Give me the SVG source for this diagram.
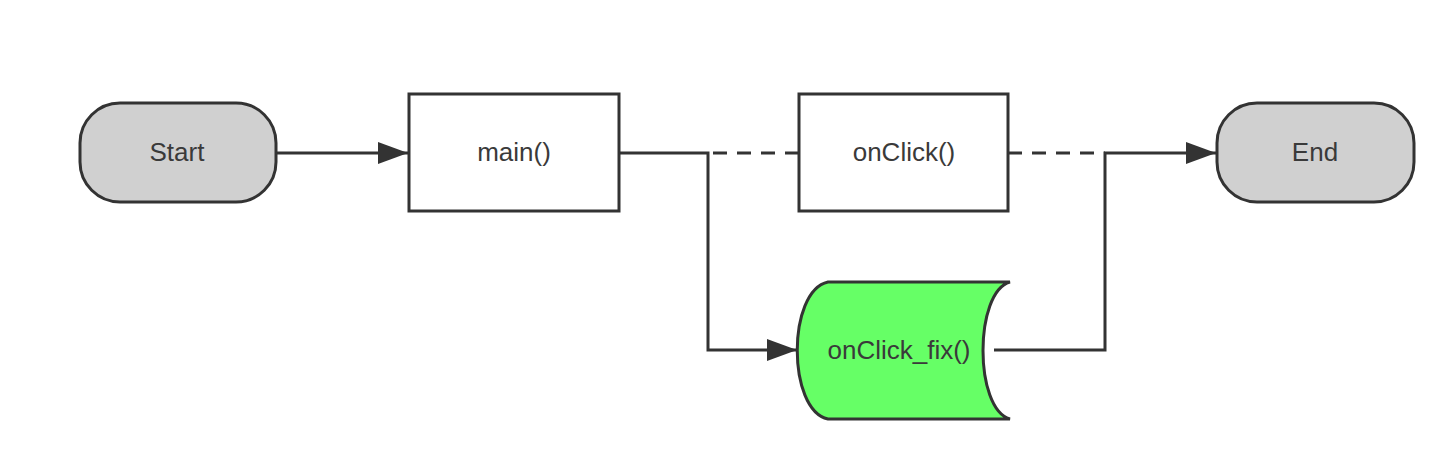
<svg xmlns="http://www.w3.org/2000/svg" width="1454" height="462" viewBox="0 0 1454 462">
  <defs>
    <marker id="arrow" markerUnits="userSpaceOnUse" markerWidth="32" markerHeight="22" refX="30" refY="11" orient="auto">
      <path d="M0,0 L30,11 L0,22 Z" fill="#333333"/>
    </marker>
    <style>
      .shape { stroke: #333333; stroke-width: 3; }
      .term { fill: #d0d0d0; }
      .proc { fill: #ffffff; }
      .data { fill: #66ff66; }
      .label { font-family: "Liberation Sans", Arial, sans-serif; font-size: 26px; fill: #3a3a3a; text-anchor: middle; dominant-baseline: central; }
      .edge { fill: none; stroke: #333333; stroke-width: 3; }
      .dash { stroke-dasharray: 14 10; }
    </style>
  </defs>
  <rect width="1454" height="462" fill="#ffffff"/>
  <g id="connectors">
    <path class="edge dash" d="M799,153 L708,153"/>
    <path class="edge dash" d="M1008,153 L1105,153"/>
    <path class="edge" d="M277,153 L408,153" marker-end="url(#arrow)"/>
    <path class="edge" d="M619,153 L708,153 L708,350 L797,350" marker-end="url(#arrow)"/>
    <path class="edge" d="M994,350 L1105,350 L1105,153 L1216,153" marker-end="url(#arrow)"/>
  </g>
  <g id="start">
    <rect class="shape term" x="80" y="103" width="196" height="99" rx="40" ry="40"/>
    <text class="label" x="177" y="152">Start</text>
  </g>
  <g id="main">
    <rect class="shape proc" x="409" y="94" width="210" height="117"/>
    <text class="label" x="514" y="152">main()</text>
  </g>
  <g id="onClick">
    <rect class="shape proc" x="799" y="94" width="209" height="117"/>
    <text class="label" x="904" y="152">onClick()</text>
  </g>
  <g id="onClick_fix">
    <path class="shape data" d="M828,282 L1010,282 C974,292 974,409 1010,419 L828,419 C787,410 787,291 828,282 Z"/>
    <text class="label" x="899" y="350">onClick_fix()</text>
  </g>
  <g id="end">
    <rect class="shape term" x="1217" y="103" width="197" height="99" rx="40" ry="40"/>
    <text class="label" x="1315" y="152">End</text>
  </g>
</svg>
